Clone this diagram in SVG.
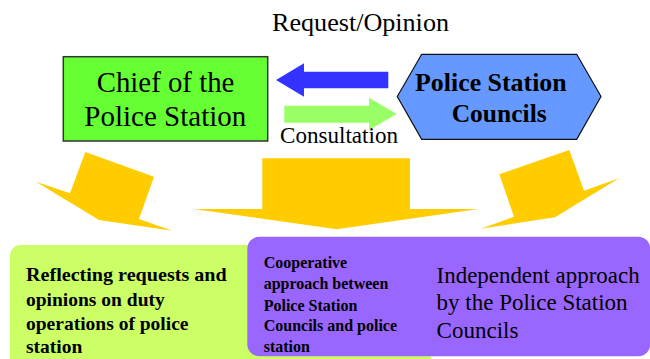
<svg xmlns="http://www.w3.org/2000/svg" width="650" height="359" viewBox="0 0 650 359" font-family="'Liberation Serif', 'Times New Roman', serif">
<style>
text{font-family:"Liberation Serif","Times New Roman",serif}
.b{font-weight:bold}
.yel{fill:#ffcc00}
</style>
<rect width="650" height="359" fill="#fff"/>
<g id="connectors">
<polygon id="arrow-request" points="276,80 304,63.3 304,71.7 388.3,71.7 388.3,88.3 304,88.3 304,96.7" fill="#3333ff"/>
<polygon id="arrow-consult" points="396.7,114 369,97.7 369,105.7 284.3,105.7 284.3,122.7 369,122.7 369,130" fill="#99ff66"/>
<polygon id="arrow-left" class="yel" points="36,181.7 70,193.3 85.3,152 154,176.7 139,219 172.3,230.7 99,220"/>
<polygon id="arrow-mid" class="yel" points="262.3,158.3 410,158.3 410,209 478.3,209 336.7,229.3 194,209 262.3,209"/>
<polygon id="arrow-right" class="yel" points="499.3,174.3 569.3,150 584,190.7 619,178.3 555,217.3 480.7,228.7 514,216.7"/>
</g>
<text x="272" y="31" font-size="25" textLength="177" lengthAdjust="spacingAndGlyphs">Request/Opinion</text>
<text x="280" y="143.3" font-size="23" textLength="118" lengthAdjust="spacingAndGlyphs">Consultation</text>
<g id="chief">
<rect x="63.3" y="56.7" width="204.4" height="84.3" fill="#66ff33" stroke="#333" stroke-width="1.5"/>
<text x="96.7" y="92.3" font-size="29" textLength="137.7" lengthAdjust="spacingAndGlyphs">Chief of the</text>
<text x="84.3" y="126" font-size="29" textLength="162" lengthAdjust="spacingAndGlyphs">Police Station</text>
</g>
<g id="councils">
<polygon points="397.3,96.5 421.7,54.3 576.7,54.3 601,96.5 576.7,139.3 421.7,139.3" fill="#6699ff" stroke="#111" stroke-width="1.2"/>
<text class="b" x="415" y="90.7" font-size="25" textLength="151.7" lengthAdjust="spacingAndGlyphs">Police Station</text>
<text class="b" x="451.7" y="121.7" font-size="25" textLength="95" lengthAdjust="spacingAndGlyphs">Councils</text>
</g>
<g id="reflecting">
<rect x="10" y="245" width="421" height="140" rx="10" fill="#ccff66"/>
<text class="b" font-size="19.5">
<tspan x="26" y="280.7" textLength="200.7" lengthAdjust="spacingAndGlyphs">Reflecting requests and</tspan>
<tspan x="26" y="306">opinions on duty</tspan>
<tspan x="26" y="330">operations of police</tspan>
<tspan x="26" y="353.3">station</tspan>
</text>
</g>
<g id="cooperative">
<rect x="247.3" y="236.7" width="403" height="119.5" rx="12" fill="#9966ff"/>
<text class="b" font-size="16">
<tspan x="263.7" y="268.3">Cooperative</tspan>
<tspan x="263.7" y="289.3">approach between</tspan>
<tspan x="263.7" y="310.7">Police Station</tspan>
<tspan x="263.7" y="330.7">Councils and police</tspan>
<tspan x="263.7" y="351.7">station</tspan>
</text>
<text font-size="23">
<tspan x="436.6" y="283.3" textLength="203" lengthAdjust="spacingAndGlyphs">Independent approach</tspan>
<tspan x="436.6" y="310">by the Police Station</tspan>
<tspan x="436.6" y="338.3">Councils</tspan>
</text>
</g>
</svg>
